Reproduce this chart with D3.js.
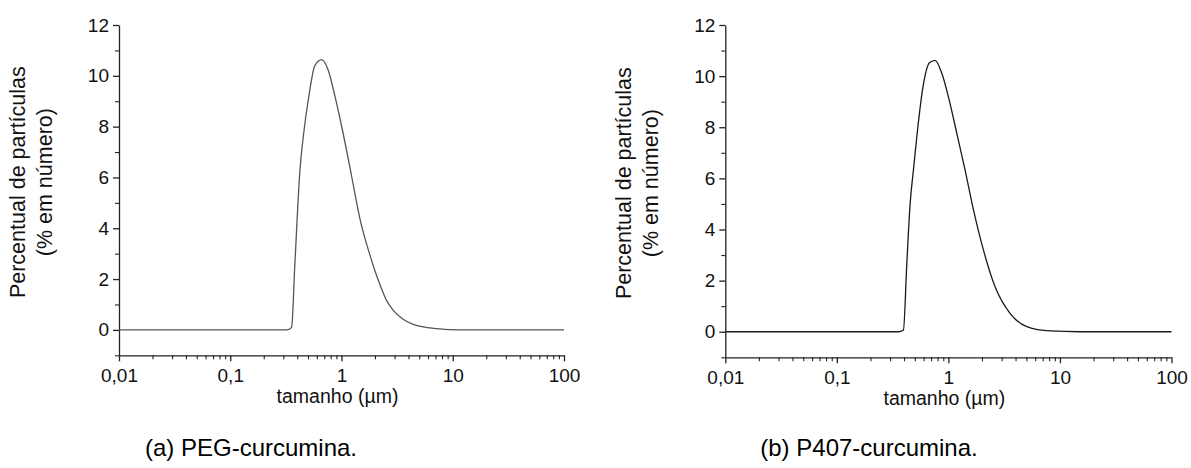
<!DOCTYPE html>
<html>
<head>
<meta charset="utf-8">
<script src="https://cdn.jsdelivr.net/npm/d3@7"></script>
<style>
  html, body { margin: 0; padding: 0; background: #fff; }
  svg { display: block; font-family: "Liberation Sans", Arial, sans-serif; }
</style>
</head>
<body>
<svg id="chart" width="1191" height="468"></svg>
<script>
// ---- data ----
const sizesPEG = [0.01, 0.30, 0.33, 0.356, 0.381, 0.423, 0.453, 0.513, 0.577, 0.663, 0.760, 0.873, 1.036, 1.19, 1.32, 1.46, 1.62, 1.80, 2.0, 2.21, 2.54, 2.92, 3.58, 4.41, 7.15, 11.6, 100];
const pctPEG   = [0, 0, 0.01, 0.1, 2.6, 6.28, 7.59, 9.3, 10.41, 10.64, 10.22, 9.2, 7.72, 6.41, 5.36, 4.40, 3.62, 2.95, 2.32, 1.80, 1.16, 0.77, 0.42, 0.22, 0.05, 0, 0];

const sizesP407 = [0.01, 0.356, 0.395, 0.424, 0.454, 0.486, 0.521, 0.589, 0.676, 0.760, 0.873, 1.0, 1.19, 1.41, 1.68, 2.06, 2.62, 3.57, 5.05, 8.17, 15.2, 100];
const pctP407   = [0, 0, 0.07, 2.68, 5.02, 6.33, 7.63, 9.52, 10.52, 10.62, 10.11, 9.19, 7.76, 6.33, 4.76, 3.2, 1.76, 0.72, 0.2, 0.03, 0, 0];

const xTickValues = [0.01, 0.1, 1, 10, 100];
const xTickLabels = ["0,01", "0,1", "1", "10", "100"];
const yTickValues = [0, 2, 4, 6, 8, 10, 12];
const yMinorValues = [-1, 1, 3, 5, 7, 9, 11];
const yTitleLines = ["Percentual de partículas", "(% em número)"];
const xTitle = "tamanho (µm)";
const captions = ["(a) PEG-curcumina.", "(b) P407-curcumina."];

// ---- drawing ----
const svg = d3.select("#chart");
const xMinor = [];
for (let d = -2; d < 2; d++) for (let m = 2; m <= 9; m++) xMinor.push(m * Math.pow(10, d));

function panel(cfg) {
  const x = d3.scaleLog().domain([0.01, 100]).range([cfg.x0, cfg.x1]);
  const y = d3.scaleLinear().domain([-1, 12]).range([cfg.y0, cfg.y1]);
  const g = svg.append("g");

  // x minor ticks
  g.append("g").attr("transform", `translate(0,${cfg.y0})`)
    .call(d3.axisBottom(x).tickValues(xMinor).tickSize(4).tickFormat(""))
    .call(a => a.select(".domain").remove())
    .call(a => a.selectAll("line").attr("stroke", "#222").attr("stroke-width", 1.1));
  // x major
  const xa = g.append("g").attr("transform", `translate(0,${cfg.y0})`)
    .call(d3.axisBottom(x).tickValues(xTickValues).tickSizeInner(6).tickSizeOuter(0).tickPadding(7)
      .tickFormat((d, i) => xTickLabels[i]));
  xa.select(".domain").attr("stroke", "#222").attr("stroke-width", 1.3);
  xa.selectAll("line").attr("stroke", "#222").attr("stroke-width", 1.3);
  xa.selectAll("text").attr("fill", "#111").style("font-size", "19px");

  // y minor
  g.append("g").attr("transform", `translate(${cfg.x0},0)`)
    .call(d3.axisLeft(y).tickValues(yMinorValues).tickSize(4).tickFormat(""))
    .call(a => a.select(".domain").remove())
    .call(a => a.selectAll("line").attr("stroke", "#222").attr("stroke-width", 1.1));
  // y major
  const ya = g.append("g").attr("transform", `translate(${cfg.x0},0)`)
    .call(d3.axisLeft(y).tickValues(yTickValues).tickSizeInner(6).tickSizeOuter(0).tickPadding(4));
  ya.select(".domain").attr("stroke", "#222").attr("stroke-width", 1.3);
  ya.selectAll("line").attr("stroke", "#222").attr("stroke-width", 1.3);
  ya.selectAll("text").attr("fill", "#111").style("font-size", "19px");

  // curve
  const pts = cfg.sizes.map((s, i) => [s, cfg.pct[i]]);
  g.append("path").datum(pts)
    .attr("fill", "none").attr("stroke", cfg.color).attr("stroke-width", 1.3)
    .attr("stroke-linejoin", "round")
    .attr("d", d3.line().x(d => x(d[0])).y(d => y(d[1])).curve(d3.curveMonotoneX));

  // x title
  g.append("text").attr("x", (cfg.x0 + cfg.x1) / 2 - 4).attr("y", cfg.y0 + 48)
    .attr("text-anchor", "middle").attr("fill", "#111").style("font-size", "19.5px").text(xTitle);

  // y title
  const yc = (y(12) + y(-1)) / 2 - 8;
  yTitleLines.forEach((t, i) => {
    g.append("text")
      .attr("transform", `translate(${cfg.x0 - 94 + i * 27},${yc}) rotate(-90)`)
      .attr("text-anchor", "middle").attr("fill", "#111").style("font-size", "21.5px").text(t);
  });

  // caption
  svg.append("text").attr("x", cfg.capX).attr("y", 456)
    .attr("text-anchor", "middle").attr("fill", "#000").style("font-size", "24px").text(cfg.caption);
}

panel({x0: 119, x1: 564, y0: 355.3, y1: 25, sizes: sizesPEG, pct: pctPEG, color: "#555", caption: captions[0], capX: 251});
panel({x0: 725.3, x1: 1171.5, y0: 357.3, y1: 25, sizes: sizesP407, pct: pctP407, color: "#1a1a1a", caption: captions[1], capX: 869});
</script>
</body>
</html>
